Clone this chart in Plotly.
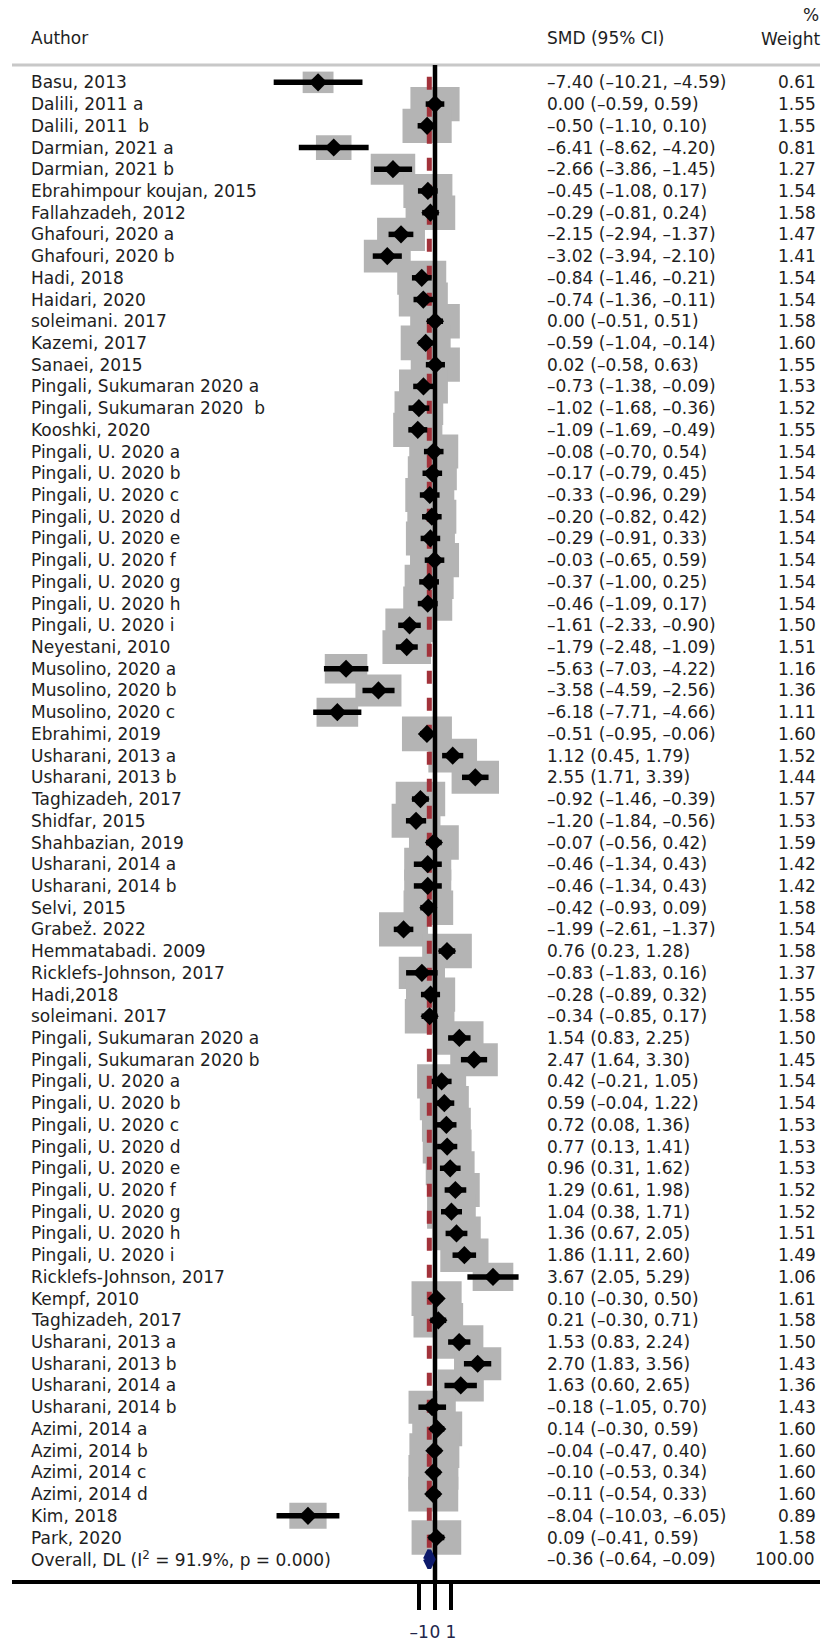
import plotly.graph_objects as go

# ---------------- data ----------------
authors = [
    "Basu, 2013", "Dalili, 2011 a", "Dalili, 2011\u00a0 b", "Darmian, 2021 a", "Darmian, 2021 b",
    "Ebrahimpour koujan, 2015", "Fallahzadeh, 2012", "Ghafouri, 2020 a", "Ghafouri, 2020 b",
    "Hadi, 2018", "Haidari, 2020", "soleimani. 2017", "Kazemi, 2017", "Sanaei, 2015",
    "Pingali, Sukumaran 2020 a", "Pingali, Sukumaran 2020\u00a0 b", "Kooshki, 2020",
    "Pingali, U. 2020 a", "Pingali, U. 2020 b", "Pingali, U. 2020 c", "Pingali, U. 2020 d",
    "Pingali, U. 2020 e", "Pingali, U. 2020 f", "Pingali, U. 2020 g", "Pingali, U. 2020 h",
    "Pingali, U. 2020 i", "Neyestani, 2010", "Musolino, 2020 a", "Musolino, 2020 b",
    "Musolino, 2020 c", "Ebrahimi, 2019", "Usharani, 2013 a", "Usharani, 2013 b",
    "Taghizadeh, 2017", "Shidfar, 2015", "Shahbazian, 2019", "Usharani, 2014 a",
    "Usharani, 2014 b", "Selvi, 2015", "Grabež. 2022", "Hemmatabadi. 2009",
    "Ricklefs-Johnson, 2017", "Hadi,2018", "soleimani. 2017", "Pingali, Sukumaran 2020 a",
    "Pingali, Sukumaran 2020 b", "Pingali, U. 2020 a", "Pingali, U. 2020 b",
    "Pingali, U. 2020 c", "Pingali, U. 2020 d", "Pingali, U. 2020 e", "Pingali, U. 2020 f",
    "Pingali, U. 2020 g", "Pingali, U. 2020 h", "Pingali, U. 2020 i", "Ricklefs-Johnson, 2017",
    "Kempf, 2010", "Taghizadeh, 2017", "Usharani, 2013 a", "Usharani, 2013 b",
    "Usharani, 2014 a", "Usharani, 2014 b", "Azimi, 2014 a", "Azimi, 2014 b",
    "Azimi, 2014 c", "Azimi, 2014 d", "Kim, 2018", "Park, 2020",
]
smd = [
    -7.40, 0.00, -0.50, -6.41, -2.66, -0.45, -0.29, -2.15, -3.02, -0.84, -0.74, 0.00, -0.59,
    0.02, -0.73, -1.02, -1.09, -0.08, -0.17, -0.33, -0.20, -0.29, -0.03, -0.37, -0.46, -1.61,
    -1.79, -5.63, -3.58, -6.18, -0.51, 1.12, 2.55, -0.92, -1.20, -0.07, -0.46, -0.46, -0.42,
    -1.99, 0.76, -0.83, -0.28, -0.34, 1.54, 2.47, 0.42, 0.59, 0.72, 0.77, 0.96, 1.29, 1.04,
    1.36, 1.86, 3.67, 0.10, 0.21, 1.53, 2.70, 1.63, -0.18, 0.14, -0.04, -0.10, -0.11, -8.04, 0.09,
]
ci_low = [
    -10.21, -0.59, -1.10, -8.62, -3.86, -1.08, -0.81, -2.94, -3.94, -1.46, -1.36, -0.51, -1.04,
    -0.58, -1.38, -1.68, -1.69, -0.70, -0.79, -0.96, -0.82, -0.91, -0.65, -1.00, -1.09, -2.33,
    -2.48, -7.03, -4.59, -7.71, -0.95, 0.45, 1.71, -1.46, -1.84, -0.56, -1.34, -1.34, -0.93,
    -2.61, 0.23, -1.83, -0.89, -0.85, 0.83, 1.64, -0.21, -0.04, 0.08, 0.13, 0.31, 0.61, 0.38,
    0.67, 1.11, 2.05, -0.30, -0.30, 0.83, 1.83, 0.60, -1.05, -0.30, -0.47, -0.53, -0.54, -10.03, -0.41,
]
ci_high = [
    -4.59, 0.59, 0.10, -4.20, -1.45, 0.17, 0.24, -1.37, -2.10, -0.21, -0.11, 0.51, -0.14,
    0.63, -0.09, -0.36, -0.49, 0.54, 0.45, 0.29, 0.42, 0.33, 0.59, 0.25, 0.17, -0.90,
    -1.09, -4.22, -2.56, -4.66, -0.06, 1.79, 3.39, -0.39, -0.56, 0.42, 0.43, 0.43, 0.09,
    -1.37, 1.28, 0.16, 0.32, 0.17, 2.25, 3.30, 1.05, 1.22, 1.36, 1.41, 1.62, 1.98, 1.71,
    2.05, 2.60, 5.29, 0.50, 0.71, 2.24, 3.56, 2.65, 0.70, 0.59, 0.40, 0.34, 0.33, -6.05, 0.59,
]
weights = [
    0.61, 1.55, 1.55, 0.81, 1.27, 1.54, 1.58, 1.47, 1.41, 1.54, 1.54, 1.58, 1.60, 1.55, 1.53,
    1.52, 1.55, 1.54, 1.54, 1.54, 1.54, 1.54, 1.54, 1.54, 1.54, 1.50, 1.51, 1.16, 1.36, 1.11,
    1.60, 1.52, 1.44, 1.57, 1.53, 1.59, 1.42, 1.42, 1.58, 1.54, 1.58, 1.37, 1.55, 1.58, 1.50,
    1.45, 1.54, 1.54, 1.53, 1.53, 1.53, 1.52, 1.52, 1.51, 1.49, 1.06, 1.61, 1.58, 1.50, 1.43,
    1.36, 1.43, 1.60, 1.60, 1.60, 1.60, 0.89, 1.58,
]
overall_label = "Overall, DL (I<sup>2</sup> = 91.9%, p = 0.000)"
overall_smd = -0.36
overall_low = -0.64
overall_high = -0.09
overall_weight = 100.00

x_ticks = [-1, 0, 1]
x_tick_labels = ["\u20131", "0", "1"]

# ---------------- layout constants ----------------
W, H = 833, 1642
ML, MR, MT, MB = 12, 13, 0, 59
PW = W - ML - MR
PH = H - MT - MB
PX_PER_UNIT = 15.8
ZERO_PX = 435
ROW0_PX = 82.5
ROW_STEP = 21.76
FONT = "DejaVu Sans"
FS = 17
TXT = "#1e1e1e"

x_range = [(ML - ZERO_PX) / PX_PER_UNIT, (ML + PW - ZERO_PX) / PX_PER_UNIT]
y_top = (MT - ROW0_PX) / ROW_STEP
y_bot = (MT + PH - ROW0_PX) / ROW_STEP


def ypx(px):
    return (px - ROW0_PX) / ROW_STEP


def xpaper(px):
    return (px - ML) / PW


def fmt(v):
    s = f"{v:.2f}"
    return s.replace("-", "\u2013")


n = len(authors)
rows = list(range(n))
overall_row = n

fig = go.Figure()

shapes = []
# weight boxes
for i in rows:
    w = weights[i]
    bw = 39.5 * w ** 0.5
    bh = 27.5 * w ** 0.5
    shapes.append(dict(type="rect", xref="x", yref="y", xsizemode="pixel", ysizemode="pixel",
                       xanchor=smd[i], yanchor=i, x0=-bw / 2, x1=bw / 2, y0=-bh / 2, y1=bh / 2,
                       fillcolor="#b4b4b4", line=dict(width=0), layer="below"))
# overall dashed line
shapes.append(dict(type="line", xref="x", yref="y", x0=overall_smd, x1=overall_smd,
                   y0=ypx(77), y1=ypx(1552), line=dict(color="#a2323a", width=5, dash="13px,14px"),
                   layer="below"))
# null line
shapes.append(dict(type="line", xref="x", yref="y", x0=0, x1=0, y0=ypx(65), y1=y_bot,
                   line=dict(color="black", width=4.5), layer="below"))
# header separator
shapes.append(dict(type="line", xref="paper", yref="y", x0=0, x1=1, y0=ypx(65), y1=ypx(65),
                   line=dict(color="#c8c8c8", width=3), layer="below"))

# CI lines
cx, cy = [], []
for i in rows:
    cx += [ci_low[i], ci_high[i], None]
    cy += [i, i, None]
fig.add_trace(go.Scatter(x=cx, y=cy, mode="lines", line=dict(color="black", width=5.5),
                         hoverinfo="skip"))
# point estimates
fig.add_trace(go.Scatter(x=smd, y=rows, mode="markers",
                         marker=dict(symbol="diamond", size=14, color="black", line=dict(width=0))))
# overall diamond
dh = 9 / ROW_STEP
fig.add_trace(go.Scatter(
    x=[overall_low, overall_smd, overall_high, overall_smd, overall_low],
    y=[overall_row, overall_row - dh, overall_row, overall_row + dh, overall_row],
    mode="lines", fill="toself", fillcolor="#0d1a6b", line=dict(color="#0d1a6b", width=4),
    hoverinfo="skip"))

annotations = []
font = dict(family=FONT, size=FS, color=TXT)
col1 = xpaper(31) - 2 / PW
col2 = xpaper(547) - 2 / PW
col3 = xpaper(816) + 2 / PW
for i in rows:
    annotations.append(dict(x=col1, y=i, xref="paper", yref="y", text=authors[i], showarrow=False,
                            xanchor="left", yanchor="middle", font=font))
    annotations.append(dict(x=col2, y=i, xref="paper", yref="y",
                            text=f"{fmt(smd[i])} ({fmt(ci_low[i])}, {fmt(ci_high[i])})",
                            showarrow=False, xanchor="left", yanchor="middle", font=font))
    annotations.append(dict(x=col3, y=i, xref="paper", yref="y", text=f"{weights[i]:.2f}",
                            showarrow=False, xanchor="right", yanchor="middle", font=font))
annotations.append(dict(x=col1, y=overall_row, xref="paper", yref="y", text=overall_label,
                        showarrow=False, xanchor="left", yanchor="middle", font=font))
annotations.append(dict(x=col2, y=overall_row, xref="paper", yref="y",
                        text=f"{fmt(overall_smd)} ({fmt(overall_low)}, {fmt(overall_high)})",
                        showarrow=False, xanchor="left", yanchor="middle", font=font))
annotations.append(dict(x=xpaper(814) + 2 / PW, y=overall_row, xref="paper", yref="y",
                        text=f"{overall_weight:.2f}", showarrow=False, xanchor="right",
                        yanchor="middle", font=font))
# headers
annotations.append(dict(x=col1, y=ypx(38), xref="paper", yref="y", text="Author", showarrow=False,
                        xanchor="left", yanchor="middle", font=font))
annotations.append(dict(x=col2, y=ypx(38), xref="paper", yref="y", text="SMD (95% CI)",
                        showarrow=False, xanchor="left", yanchor="middle", font=font))
annotations.append(dict(x=xpaper(819) + 2 / PW, y=ypx(15), xref="paper", yref="y", text="%",
                        showarrow=False, xanchor="right", yanchor="middle", font=font))
annotations.append(dict(x=xpaper(821) + 2 / PW, y=ypx(39), xref="paper", yref="y", text="Weight",
                        showarrow=False, xanchor="right", yanchor="middle", font=font))

fig.update_layout(
    width=W, height=H,
    margin=dict(l=ML, r=MR, t=MT, b=MB, pad=0),
    paper_bgcolor="white", plot_bgcolor="white",
    showlegend=False,
    shapes=shapes, annotations=annotations,
    xaxis=dict(range=x_range, showgrid=False, zeroline=False, showline=True, linewidth=4,
               linecolor="black", ticks="outside", ticklen=26, tickwidth=4, tickcolor="black",
               tickvals=x_ticks, ticktext=x_tick_labels, tickangle=0, ticklabelstandoff=8,
               tickfont=dict(family=FONT, size=FS, color="#22264a"), fixedrange=True),
    yaxis=dict(range=[y_bot, y_top], visible=False, fixedrange=True),
)

fig.write_html("out.html", config={"displayModeBar": False},
               post_script="document.body.style.margin='0';")
